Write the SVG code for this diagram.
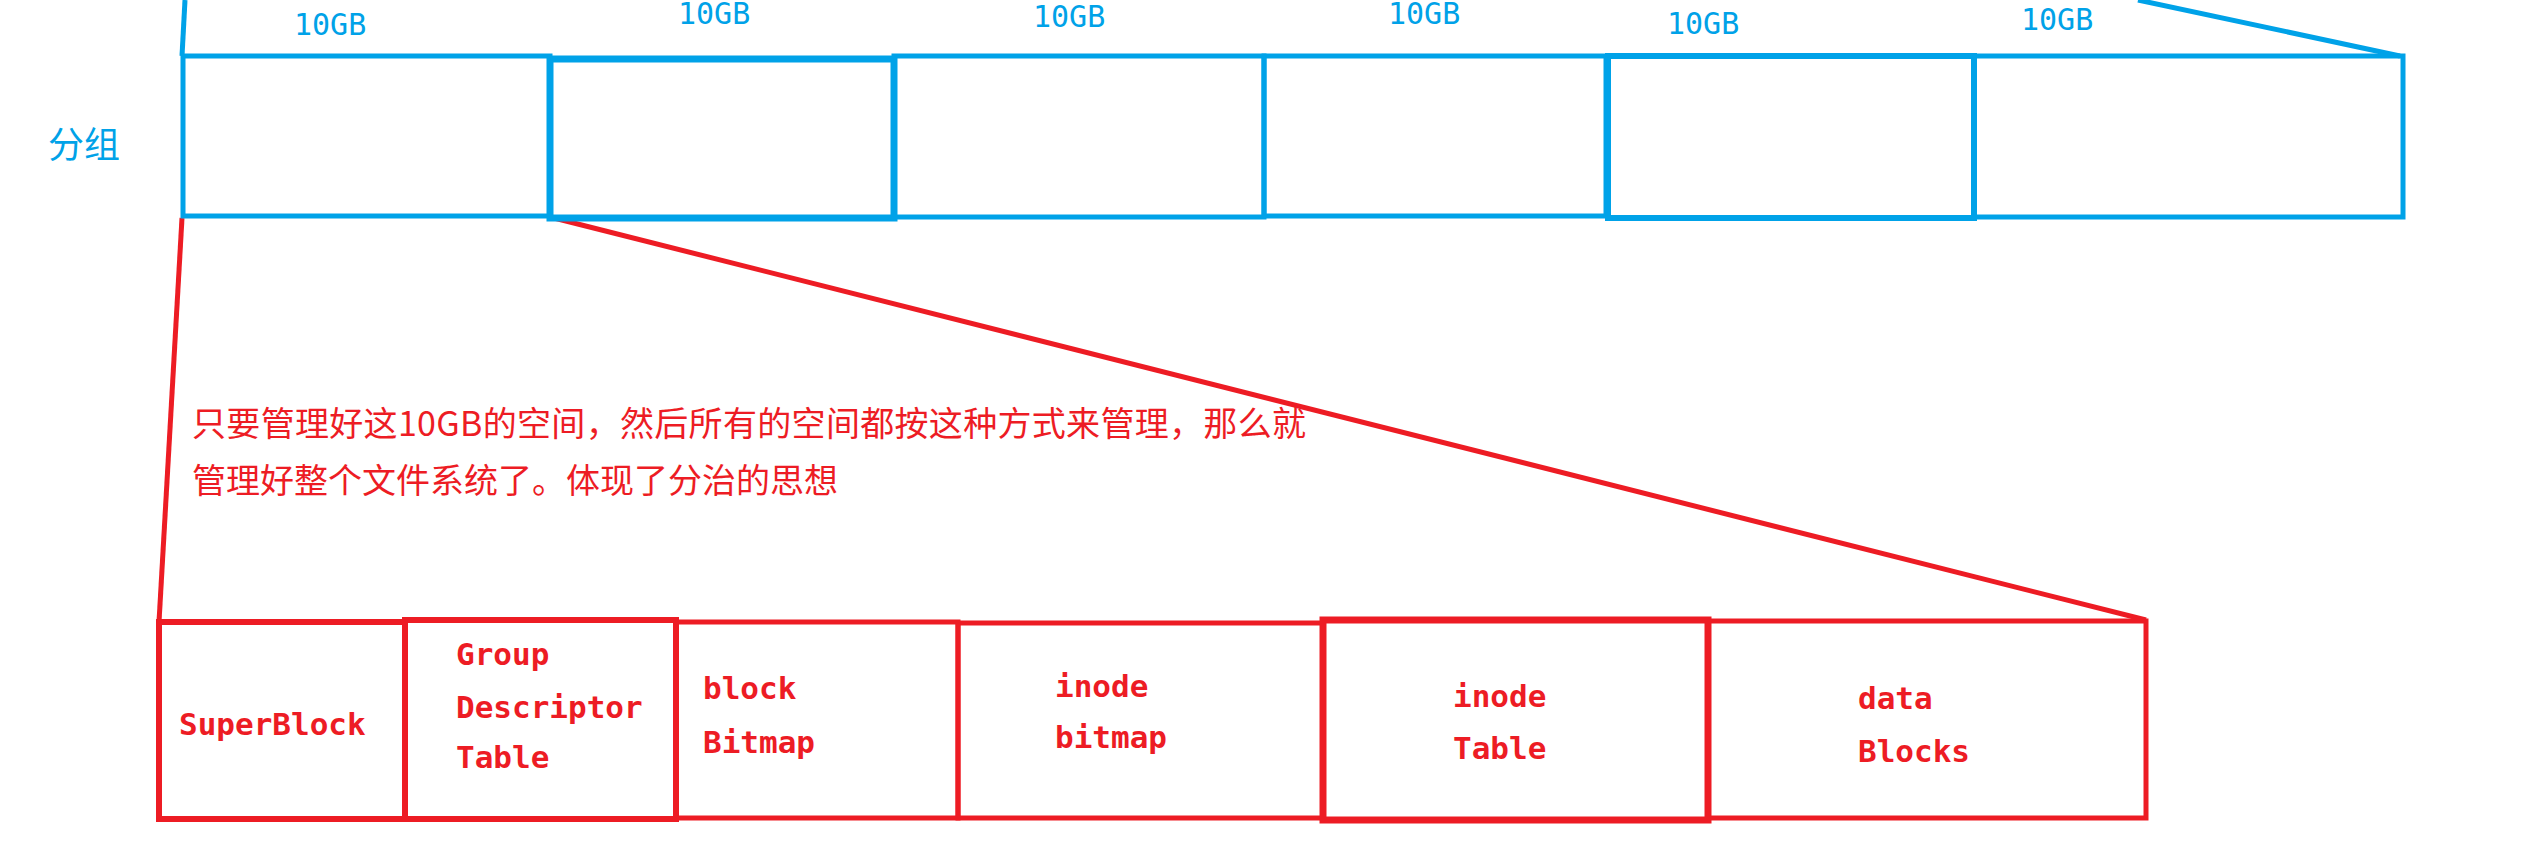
<svg xmlns="http://www.w3.org/2000/svg" width="2522" height="859" viewBox="0 0 2522 859">
<style>
.bb{fill:none;stroke:#00A2E8;stroke-width:5}
.bt{fill:#00A2E8;font-family:"DejaVu Sans Mono","Liberation Mono",monospace;font-size:30px}
.rb{fill:none;stroke:#ED1C24;stroke-width:5}
.rt{fill:#ED1C24;font-family:"DejaVu Sans Mono","Liberation Mono",monospace;font-size:31px;font-weight:bold}
.cn{fill:#ED1C24;font-family:"Noto Sans CJK SC","Noto Sans",sans-serif;font-size:34px}
.bl{stroke:#00A2E8;stroke-width:5;fill:none}
.rl{stroke:#ED1C24;stroke-width:5;fill:none}
</style>
<rect width="2522" height="859" fill="#ffffff"/>
<g id="connectors">
<line class="bl" x1="182" y1="56" x2="185" y2="0"/>
<line class="bl" x1="2138" y1="0" x2="2400" y2="56"/>
<line class="rl" x1="182" y1="218" x2="159" y2="622"/>
<line class="rl" x1="550" y1="217" x2="2146" y2="620"/>
</g>
<g id="label-group">
<text x="48" y="158" style="fill:#00A2E8;font-family:'Noto Sans CJK SC','Noto Sans',sans-serif;font-size:36px">分组</text>
</g>
<g id="g1"><rect class="bb" x="183" y="56" width="367" height="160"/><text class="bt" x="294" y="35">10GB</text></g>
<g id="g2"><rect class="bb" style="stroke-width:7" x="550" y="59" width="344" height="159"/><text class="bt" x="678" y="24">10GB</text></g>
<g id="g3"><rect class="bb" x="894" y="56" width="370" height="161"/><text class="bt" x="1033" y="27">10GB</text></g>
<g id="g4"><rect class="bb" x="1264" y="56" width="342" height="160"/><text class="bt" x="1388" y="24">10GB</text></g>
<g id="g5"><rect class="bb" style="stroke-width:6" x="1608" y="56" width="366" height="162"/><text class="bt" x="1667" y="34">10GB</text></g>
<g id="g6"><rect class="bb" x="1974" y="56" width="429" height="161"/><text class="bt" x="2021" y="30">10GB</text></g>
<g id="note">
<text class="cn" x="192" y="436" textLength="1114" lengthAdjust="spacing">只要管理好这10GB的空间，然后所有的空间都按这种方式来管理，那么就</text>
<text class="cn" x="192" y="493">管理好整个文件系统了。体现了分治的思想</text>
</g>
<g id="superblock"><rect class="rb" style="stroke-width:6" x="159" y="622" width="246" height="197"/><text class="rt" x="179" y="735">SuperBlock</text></g>
<g id="gdt"><rect class="rb" style="stroke-width:6" x="405" y="620" width="271" height="199"/><text class="rt" x="456" y="665">Group</text><text class="rt" x="456" y="718">Descriptor</text><text class="rt" x="456" y="768">Table</text></g>
<g id="block-bitmap"><rect class="rb" x="676" y="622" width="282" height="196"/><text class="rt" x="703" y="699">block</text><text class="rt" x="703" y="753">Bitmap</text></g>
<g id="inode-bitmap"><rect class="rb" x="958" y="623" width="365" height="195"/><text class="rt" x="1055" y="697">inode</text><text class="rt" x="1055" y="748">bitmap</text></g>
<g id="inode-table"><rect class="rb" style="stroke-width:7" x="1323" y="620" width="385" height="200"/><text class="rt" x="1453" y="707">inode</text><text class="rt" x="1453" y="759">Table</text></g>
<g id="data-blocks"><rect class="rb" x="1708" y="621" width="438" height="197"/><text class="rt" x="1858" y="709">data</text><text class="rt" x="1858" y="762">Blocks</text></g>
</svg>
